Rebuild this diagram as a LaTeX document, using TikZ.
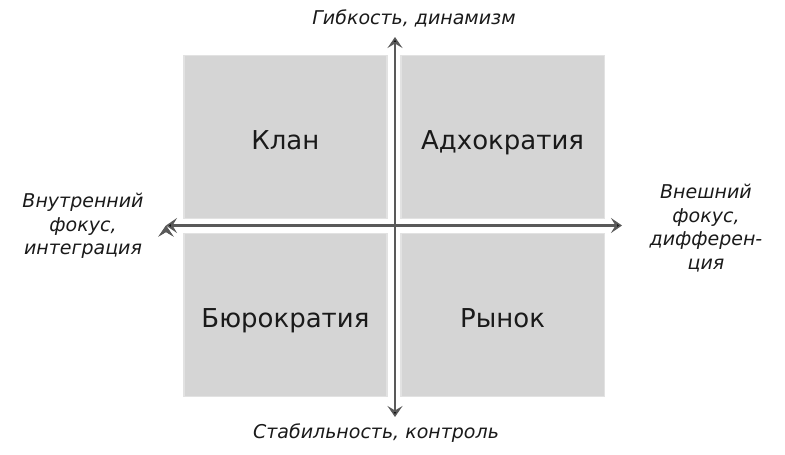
\documentclass[tikz,border=0pt]{standalone}
\usepackage{fontspec}
\setmainfont{DejaVu Sans}
\usetikzlibrary{matrix,arrows.meta}
\definecolor{quadfill}{HTML}{D5D5D5}
\definecolor{quadline}{HTML}{E2E2E2}
\definecolor{axisgray}{HTML}{595959}
\definecolor{textgray}{HTML}{1A1A1A}
\tikzset{
	quad/.style={fill=quadfill,draw=quadline,line width=1.2pt,minimum width=203pt,minimum height=163pt,inner sep=0pt,anchor=center,text height=25pt,text depth=0pt,text=textgray,font=\fontsize{26}{30}\selectfont},
	axis/.style={draw=axisgray,line width=2.6pt,{Stealth[length=11pt,width=15pt,inset=4.5pt]}-{Stealth[length=11pt,width=15pt,inset=4.5pt]}},
	axislabel/.style={text=textgray,align=center,font=\fontsize{19}{23.5}\selectfont\itshape,inner sep=0pt}
}

\begin{document}
\begin{tikzpicture}[x=1pt,y=-1pt]
				\useasboundingbox (0,0) rectangle (785,455);
				\matrix (q) [matrix of nodes,nodes={quad},row sep=14pt,column sep=13pt,ampersand replacement=\&] at (394,226)
				{
					Клан \& Адхократия \\
					Бюрократия \& Рынок \\};
				\coordinate (n) at (395,37);
				\coordinate (s) at (395,417);
				\coordinate (w) at (166,225.5);
				\coordinate (e) at (622,225.5);
				\path[axis]
				(s) edge (n)
				(w) edge (e);
				\node[axislabel] (flex) at (414,18) {Гибкость, динамизм};
				\node[axislabel] (stab) at (376,433) {Стабильность, контроль};
				\node[axislabel] (inner) at (83,226) {Внутренний\\фокус,\\интеграция};
				\node[axislabel] (outer) at (706,228) {Внешний\\фокус,\\дифферен-\\ция};
			\end{tikzpicture}
\end{document}
